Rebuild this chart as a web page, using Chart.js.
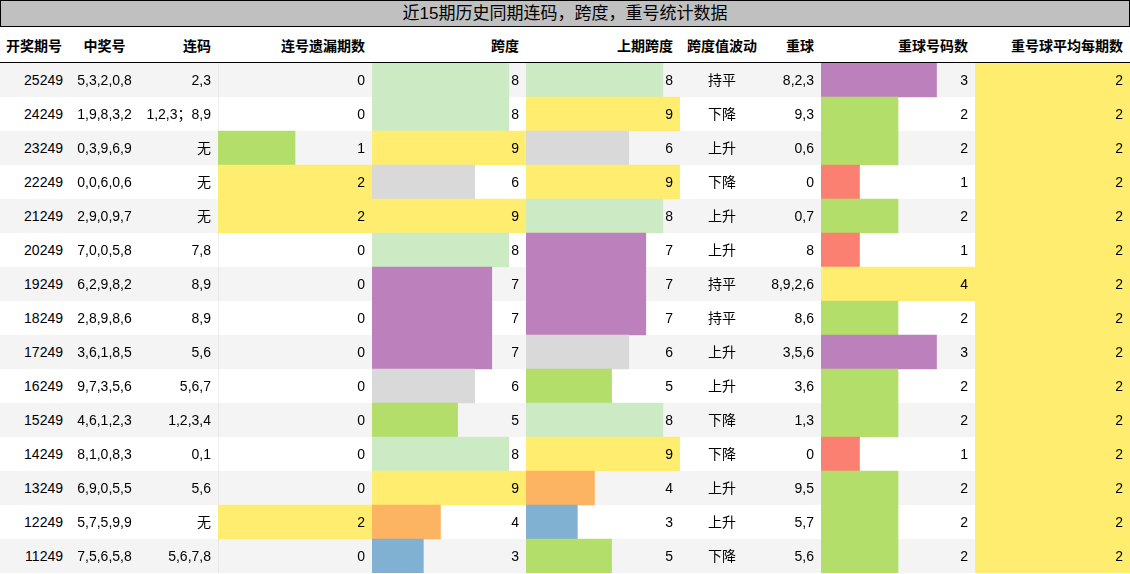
<!DOCTYPE html>
<html><head><meta charset="utf-8">
<script src="https://cdn.jsdelivr.net/npm/chart.js@4"></script>
<style>
body{margin:0;width:1130px;height:574px;overflow:hidden;font-family:"Liberation Sans","Noto Sans CJK SC",sans-serif;font-size:14px;background:#fff;position:relative}
#title{position:absolute;left:0;top:0;width:1128px;height:25px;border:1px solid #000;background:#c0c0c0;text-align:center;line-height:26px;font-size:17px}
.c{position:absolute;height:34px;line-height:34px;white-space:nowrap;z-index:3}
.h{font-weight:bold;top:27px;height:35px;line-height:38px}
.bg{position:absolute;left:0;width:1130px;height:34px;z-index:0}
canvas{position:absolute;z-index:1}
#line{position:absolute;left:0;top:62px;width:1130px;height:1px;background:#000;z-index:4}
</style></head><body>
<div id="title">近15期历史同期连码，跨度，重号统计数据</div>
<div id="line"></div>
<script>
const periods=['25249','24249','23249','22249','21249','20249','19249','18249','17249','16249','15249','14249','13249','12249','11249'];
const nums=['5,3,2,0,8','1,9,8,3,2','0,3,9,6,9','0,0,6,0,6','2,9,0,9,7','7,0,0,5,8','6,2,9,8,2','2,8,9,8,6','3,6,1,8,5','9,7,3,5,6','4,6,1,2,3','8,1,0,8,3','6,9,0,5,5','5,7,5,9,9','7,5,6,5,8'];
const lian=['2,3','1,2,3；8,9','无','无','无','7,8','8,9','8,9','5,6','5,6,7','1,2,3,4','0,1','5,6','无','5,6,7,8'];
const lianMiss=[0,0,1,2,2,0,0,0,0,0,0,0,0,2,0];
const span=[8,8,9,6,9,8,7,7,7,6,5,8,9,4,3];
const prevSpan=[8,9,6,9,8,7,7,7,6,5,8,9,4,3,5];
const trend=['持平','下降','上升','下降','上升','上升','持平','持平','上升','上升','下降','下降','上升','上升','下降'];
const repeat=['8,2,3','9,3','0,6','0','0,7','8','8,9,2,6','8,6','3,5,6','3,6','1,3','0','9,5','5,7','5,6'];
const repeatCnt=[3,2,2,1,2,1,4,2,3,2,2,1,2,2,2];
const avgCnt=[2,2,2,2,2,2,2,2,2,2,2,2,2,2,2];
const headers=['开奖期号','中奖号','连码','连号遗漏期数','跨度','上期跨度','跨度值波动','重球','重球号码数','重号球平均每期数'];

const cols=[[0,70],[70,140],[140,218],[218,372],[372,526],[526,680],[680,765],[765,821],[821,975],[975,1130]];
const Y0=63,RH=34;
for(let i=0;i<15;i++){const d=document.createElement('div');d.className='bg';d.style.top=(Y0+i*RH)+'px';d.style.background=i%2===0?'#f4f4f4':'#fff';document.body.appendChild(d);}
function cell(txt,ci,top,align,cls){const d=document.createElement('div');d.className='c'+(cls?' '+cls:'');const [a,b]=cols[ci];d.style.left=(a+6)+'px';d.style.width=(b-a-13)+'px';d.style.textAlign=align;if(top!==null)d.style.top=top+'px';d.textContent=txt;document.body.appendChild(d);}
const hAlign=['left','center','right','right','right','right','center','right','right','right'];
headers.forEach((h,i)=>cell(h,i,null,hAlign[i],'h'));
const colData=[periods,nums,lian,lianMiss,span,prevSpan,trend,repeat,repeatCnt,avgCnt];
const vAlign=['right','center','right','right','right','right','center','right','right','right'];
for(let r=0;r<15;r++)colData.forEach((arr,ci)=>cell(String(arr[r]),ci,Y0+r*RH,vAlign[ci]));

const spanColors={3:'#80b1d3',4:'#fdb462',5:'#b3de69',6:'#d9d9d9',7:'#bc80bd',8:'#ccebc5',9:'#ffed6f'};
const missColors={1:'#b3de69',2:'#ffed6f'};
const cntColors={1:'#fb8072',2:'#b3de69',3:'#bc80bd',4:'#ffed6f'};
const bars=[[3,lianMiss,2,missColors],[4,span,9,spanColors],[5,prevSpan,9,spanColors],[8,repeatCnt,4,cntColors],[9,avgCnt,2,{2:'#ffed6f'}]];
bars.forEach(([ci,vals,max,cmap])=>{
  const cv=document.createElement('canvas');const [a,b]=cols[ci];
  cv.width=b-a;cv.height=15*RH;cv.style.left=a+'px';cv.style.top=Y0+'px';cv.style.width=(b-a)+'px';cv.style.height=(15*RH)+'px';
  document.body.appendChild(cv);
  new Chart(cv,{type:'bar',data:{labels:periods,datasets:[{data:vals,backgroundColor:vals.map(v=>cmap[v]||'#ccc'),borderWidth:0,categoryPercentage:1,barPercentage:1}]},
    options:{indexAxis:'y',responsive:false,animation:false,devicePixelRatio:1,layout:{padding:0},
      plugins:{legend:{display:false},tooltip:{enabled:false}},
      scales:{x:{display:false,min:0,max:max},y:{display:false}}}});
});
</script></body></html>
